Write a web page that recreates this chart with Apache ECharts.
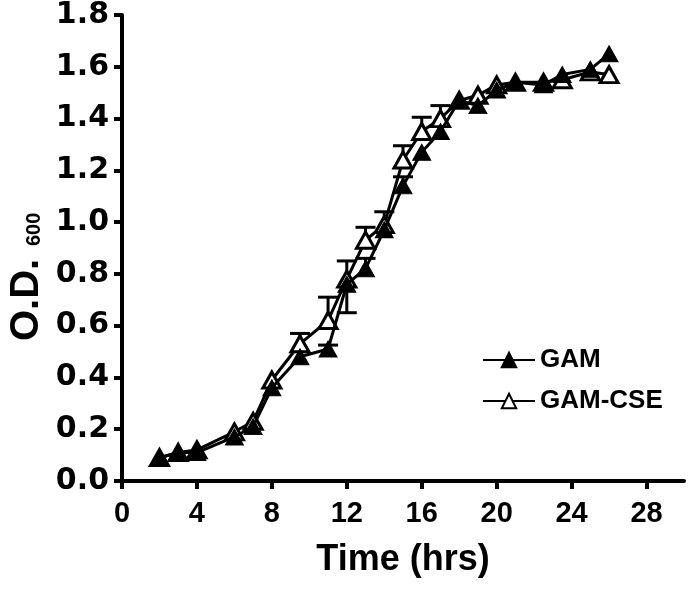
<!DOCTYPE html>
<html>
<head>
<meta charset="utf-8">
<script src="https://cdn.jsdelivr.net/npm/echarts@6/dist/echarts.min.js"></script>
<style>
html,body{margin:0;padding:0;background:#fff;}
#c{width:689px;height:590px;}
</style>
</head>
<body>
<div id="c"></div>
<script>
// ---- data ----
const times = [2, 3, 4, 6, 7, 8, 9.5, 11, 12, 13, 14, 15, 16, 17, 18, 19, 20, 21, 22.5, 23.5, 25, 26];
const gam    = [0.09, 0.11, 0.11, 0.17, 0.21, 0.36, 0.48, 0.51, 0.76, 0.82, 0.97, 1.14, 1.27, 1.35, 1.47, 1.45, 1.51, 1.54, 1.53, 1.57, 1.59, 1.65];
const gamCse = [0.09, 0.11, 0.12, 0.19, 0.23, 0.39, 0.53, 0.62, 0.78, 0.93, 0.99, 1.24, 1.35, 1.40, 1.47, 1.49, 1.53, 1.54, 1.54, 1.55, 1.58, 1.57];
// one-sided error bars (signed: + up, - down)
const gamErr = [0, 0, 0, 0, 0, 0, 0, 0.015, -0.11, 0.04, 0, 0.035, 0, 0, 0, 0, 0, 0, 0, 0, 0, 0];
const cseErr = [0, 0, 0, 0, 0, 0, 0.04, 0.09, 0.07, 0.05, 0.05, 0.055, 0.055, 0.05, 0, 0, 0, 0, 0, 0, 0, 0];
const xTicks = [0, 4, 8, 12, 16, 20, 24, 28];
const seriesNames = ['GAM', 'GAM-CSE'];

const FONT = "'Liberation Sans', Arial, Helvetica, sans-serif";
const FONT_Y = "'DejaVu Sans', 'Liberation Sans', Arial, sans-serif";
const pts = (ys) => times.map((t, i) => [t, ys[i]]);
const errPts = (ys, es) => times.map((t, i) => [t, ys[i], es[i]]).filter(d => d[2] !== 0);

function errRender(params, api) {
  const x = api.value(0), y = api.value(1), e = api.value(2);
  const p0 = api.coord([x, y]);
  const p1 = api.coord([x, y + e]);
  const hw = 10;
  const st = { stroke: '#000', lineWidth: 3 };
  return {
    type: 'group',
    children: [
      { type: 'line', shape: { x1: p0[0], y1: p0[1], x2: p1[0], y2: p1[1] }, style: st },
      { type: 'line', shape: { x1: p1[0] - hw, y1: p1[1], x2: p1[0] + hw, y2: p1[1] }, style: st }
    ]
  };
}

const chart = echarts.init(document.getElementById('c'), null, { renderer: 'canvas' });
chart.setOption({
  animation: false,
  backgroundColor: '#fff',
  grid: { left: 122, right: 5, top: 15, bottom: 109, containLabel: false },
  xAxis: {
    type: 'value', min: 0, max: 30, interval: 4,
    name: 'Time (hrs)', nameLocation: 'middle', nameGap: 61,
    nameTextStyle: { fontFamily: FONT, fontWeight: 'bold', fontSize: 36, color: '#000' },
    axisLine: { lineStyle: { color: '#000', width: 4 } },
    axisTick: { show: true, length: 8, lineStyle: { color: '#000', width: 4 }, customValues: xTicks },
    axisLabel: { fontFamily: FONT, fontWeight: 'bold', fontSize: 29, color: '#000', margin: 18, customValues: xTicks },
    splitLine: { show: false }
  },
  yAxis: {
    type: 'value', min: 0, max: 1.8, interval: 0.2,
    axisLine: { show: true, lineStyle: { color: '#000', width: 4 } },
    axisTick: { show: true, length: 8, lineStyle: { color: '#000', width: 4 } },
    axisLabel: { fontFamily: FONT_Y, fontWeight: 'bold', fontSize: 30, color: '#000', margin: 13,
      formatter: v => v.toFixed(1) },
    splitLine: { show: false }
  },
  legend: {
    orient: 'vertical', left: 477, top: 342, itemGap: 15,
    itemWidth: 52, itemHeight: 18,
    textStyle: { fontFamily: FONT, fontWeight: 'bold', fontSize: 26, color: '#000' },
    data: seriesNames
  },
  graphic: [
    { type: 'text', x: 27, y: 341, rotation: Math.PI / 2,
      style: { text: 'O.D.', font: 'bold 40px ' + FONT, fill: '#000', align: 'left', verticalAlign: 'middle' } },
    { type: 'text', x: 34, y: 246, rotation: Math.PI / 2,
      style: { text: '600', font: 'bold 20px ' + FONT, fill: '#000', align: 'left', verticalAlign: 'middle' } }
  ],
  series: [
    {
      name: seriesNames[1], type: 'line', data: pts(gamCse), z: 3,
      symbol: 'triangle', symbolSize: [18, 16],
      lineStyle: { color: '#000', width: 3 },
      itemStyle: { color: '#fff', borderColor: '#000', borderWidth: 3 }
    },
    {
      type: 'custom', data: errPts(gamCse, cseErr), renderItem: errRender, z: 2, silent: true
    },
    {
      name: seriesNames[0], type: 'line', data: pts(gam), z: 4,
      symbol: 'triangle', symbolSize: [18, 16],
      lineStyle: { color: '#000', width: 3 },
      itemStyle: { color: '#000', borderColor: '#000', borderWidth: 1 }
    },
    {
      type: 'custom', data: errPts(gam, gamErr), renderItem: errRender, z: 2, silent: true
    }
  ]
});
</script>
</body>
</html>
